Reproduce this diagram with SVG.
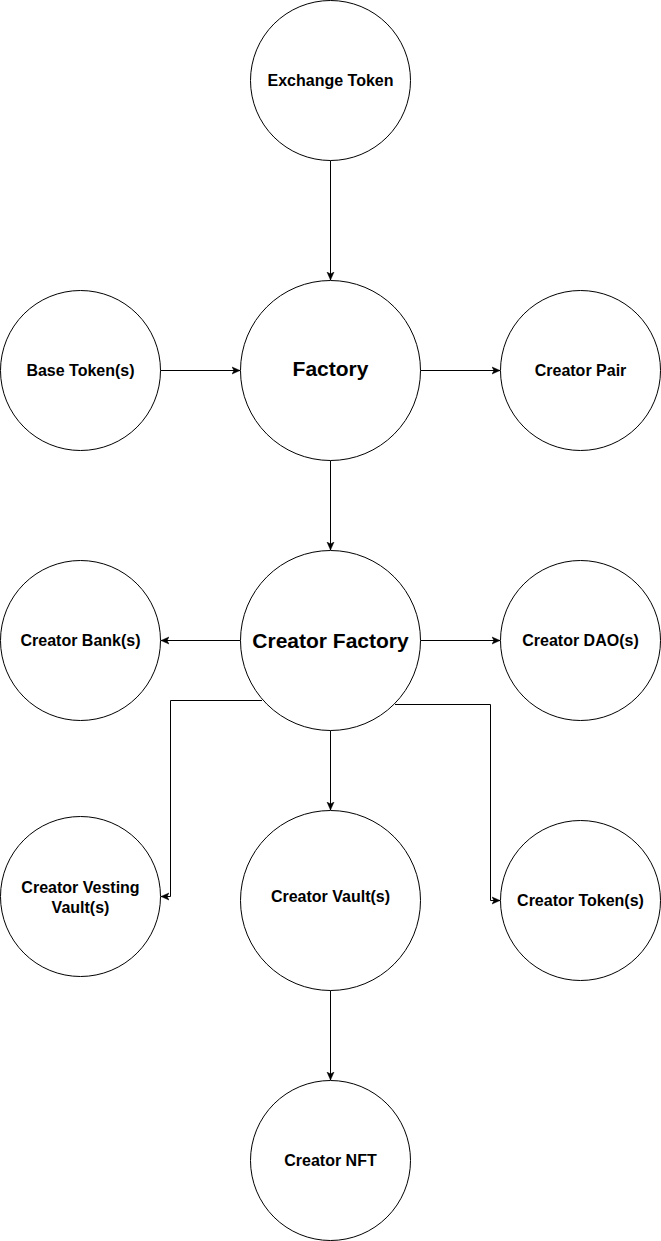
<svg xmlns="http://www.w3.org/2000/svg" width="661" height="1241" viewBox="0 0 661 1241">
<style>
.node circle { fill: #ffffff; stroke: #000000; stroke-width: 1; }
.node text { font-family: "Liberation Sans", Arial, sans-serif; font-weight: bold; font-size: 16px; text-anchor: middle; fill: #000000; }
.node text.big { font-size: 21px; }
.edge { fill: none; stroke: #000000; stroke-width: 1; marker-end: url(#arrow); }
</style>
<defs>
<marker id="arrow" markerUnits="userSpaceOnUse" markerWidth="10" markerHeight="9" refX="8" refY="4.5" orient="auto">
<path d="M0,1 L8,4.5 L0,8 L2,4.5 Z" fill="#000000" stroke="#000000" stroke-width="0.5"/>
</marker>
</defs>
<rect width="661" height="1241" fill="#ffffff"/>
<g id="connectors">
<path class="edge" d="M330.5,160.5 L330.5,280"/>
<path class="edge" d="M160.5,370.5 L240,370.5"/>
<path class="edge" d="M420.5,370.5 L500,370.5"/>
<path class="edge" d="M330.5,460.5 L330.5,550"/>
<path class="edge" d="M240.5,640.5 L161,640.5"/>
<path class="edge" d="M420.5,640.5 L500,640.5"/>
<path class="edge" d="M262,700.5 L170.5,700.5 L170.5,896.5 L161,896.5"/>
<path class="edge" d="M330.5,730.5 L330.5,810"/>
<path class="edge" d="M395,704.5 L490.5,704.5 L490.5,900.5 L500,900.5"/>
<path class="edge" d="M330.5,990.5 L330.5,1080"/>
</g>
<g id="exchange-token" class="node">
<circle cx="330.5" cy="80.5" r="80"/>
<text x="330.5" y="86">Exchange Token</text>
</g>
<g id="factory" class="node">
<circle cx="330.5" cy="370.5" r="90"/>
<text class="big" x="330.5" y="375.5">Factory</text>
</g>
<g id="base-tokens" class="node">
<circle cx="80.5" cy="370.5" r="80"/>
<text x="80.5" y="376">Base Token(s)</text>
</g>
<g id="creator-pair" class="node">
<circle cx="580.5" cy="370.5" r="80"/>
<text x="580.5" y="376">Creator Pair</text>
</g>
<g id="creator-factory" class="node">
<circle cx="330.5" cy="640.5" r="90"/>
<text class="big" x="330.5" y="647.5">Creator Factory</text>
</g>
<g id="creator-banks" class="node">
<circle cx="80.5" cy="640.5" r="80"/>
<text x="80.5" y="646">Creator Bank(s)</text>
</g>
<g id="creator-daos" class="node">
<circle cx="580.5" cy="640.5" r="80"/>
<text x="580.5" y="646">Creator DAO(s)</text>
</g>
<g id="creator-vesting-vaults" class="node">
<circle cx="80.5" cy="896.5" r="80"/>
<text x="80.5" y="892.5">Creator Vesting</text>
<text x="80.5" y="912.5">Vault(s)</text>
</g>
<g id="creator-vaults" class="node">
<circle cx="330.5" cy="900.5" r="90"/>
<text x="330.5" y="902">Creator Vault(s)</text>
</g>
<g id="creator-tokens" class="node">
<circle cx="580.5" cy="900.5" r="80"/>
<text x="580.5" y="906">Creator Token(s)</text>
</g>
<g id="creator-nft" class="node">
<circle cx="330.5" cy="1160.5" r="80"/>
<text x="330.5" y="1166">Creator NFT</text>
</g>
</svg>
